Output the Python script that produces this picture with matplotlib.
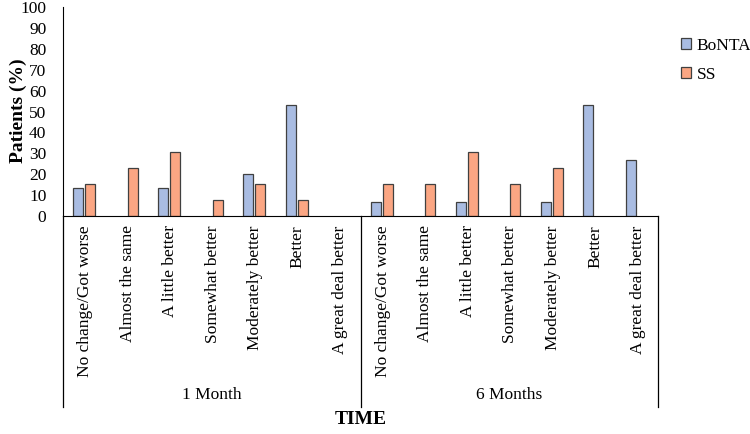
import numpy as np
import matplotlib.pyplot as plt
from matplotlib.transforms import blended_transform_factory

plt.rcParams['font.family'] = ['Liberation Serif', 'DejaVu Serif']

# --- DATA ---
categorias = ['No change/Got worse', 'Almost the same', 'A little better',
              'Somewhat better', 'Moderately better', 'Better', 'A great deal better']
grupos = ['1 Month', '6 Months']
bonta = [13.3, 0, 13.3, 0, 20.0, 53.3, 0,
         6.7, 0, 6.7, 0, 6.7, 53.3, 26.7]
ss = [15.4, 23.1, 30.8, 7.7, 15.4, 7.7, 0,
      15.4, 15.4, 30.8, 15.4, 23.1, 0, 0]
yticks = list(range(0, 101, 10))

fig = plt.figure(figsize=(7.5, 4.34), dpi=100)
ax = fig.add_axes([63 / 750, 1 - 216 / 434, (658 - 63) / 750, (216 - 7) / 434])

n = len(bonta)
x = np.arange(n)
w = 0.24
lw_b = [0.9 if v > 0 else 0 for v in bonta]
lw_s = [0.9 if v > 0 else 0 for v in ss]
ax.bar(x - 0.14, bonta, w, color='#A9BCE2', edgecolor='#404040', linewidth=lw_b, label='BoNTA')
ax.bar(x + 0.14, ss, w, color='#FBA683', edgecolor='#404040', linewidth=lw_s, label='SS')

ax.set_xlim(-0.5, n - 0.5)
ax.set_ylim(0, 100)
ax.set_yticks(yticks)
ax.tick_params(axis='y', length=0, labelsize=12.5, pad=12)
ax.set_xticks([])
for s in ['top', 'right']:
    ax.spines[s].set_visible(False)
ax.spines['left'].set_color('black')
ax.spines['bottom'].set_color('black')

# rótulos das categorias e grupos (eixo multinível)
trans = blended_transform_factory(ax.transData, ax.transAxes)
labels = categorias * len(grupos)
for i, lab in enumerate(labels):
    ax.text(i + 0.02, -0.045, lab, rotation=90, ha='center', va='top',
            fontsize=12.5, transform=trans)

fundo = -0.914
for b in [-0.5, 6.5, 13.5]:
    ax.plot([b, b], [0, fundo], color='black', linewidth=0.9,
            transform=trans, clip_on=False)
for g, nome in enumerate(grupos):
    ax.text(g * 7 + 3, -0.856, nome, ha='center', va='center',
            fontsize=12.5, transform=trans)

ax.text(0.5, -0.976, 'TIME', ha='center', va='center', fontsize=14,
        fontweight='bold', transform=ax.transAxes)
fig.text(18 / 750, 1 - 111 / 434, 'Patients (%)', rotation=90, ha='center',
         va='center', fontsize=14, fontweight='bold')

fig.legend(loc='upper left', bbox_to_anchor=(674 / 750, 1 - 31 / 434),
           frameon=False, fontsize=12.5, handlelength=0.6, handleheight=0.6,
           handletextpad=0.3, labelspacing=0.75, borderaxespad=0)

fig.savefig('out.png', dpi=100)
